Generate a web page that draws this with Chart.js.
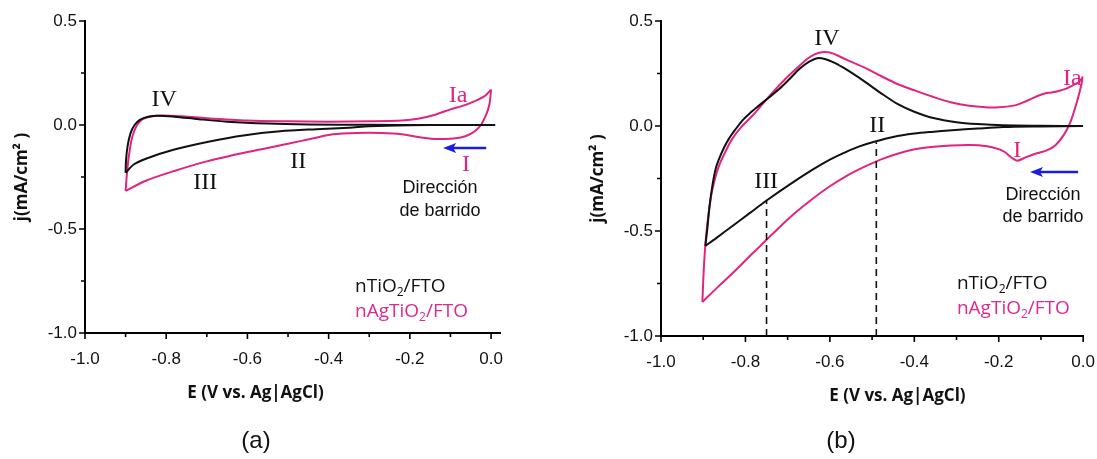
<!DOCTYPE html>
<html>
<head>
<meta charset="utf-8">
<script src="https://cdn.jsdelivr.net/npm/chart.js@4.4.0/dist/chart.umd.min.js"></script>
<style>
  body { margin: 0; background: #fff; width: 1097px; height: 459px; position: relative; overflow: hidden; }
  canvas { position: absolute; top: 0; }
  #cvA { left: 0; }
  #cvB { left: 548px; }
  .cap { position: absolute; top: 426px; font: 24px "Liberation Sans", Arial, sans-serif; color: #111; transform: translateX(-50%); }
</style>
</head>
<body>
<canvas id="cvA" width="548" height="459"></canvas>
<canvas id="cvB" width="563" height="459"></canvas>
<div class="cap" style="left:256px">(a)</div>
<div class="cap" style="left:841px">(b)</div>
<script>
// axis ticks
const xMajor = [-1.0, -0.8, -0.6, -0.4, -0.2, 0.0];
const xMinor = [-0.9, -0.7, -0.5, -0.3, -0.1];
const yMajor = [0.5, 0.0, -0.5, -1.0];
const yMinor = [0.25, -0.25, -0.75];

// (a) nTiO2/FTO : cathodic sweep (0 -> -0.9) and anodic sweep back
const aTiO2CathE = [0.01, -0.1, -0.2, -0.3, -0.35, -0.43, -0.52, -0.61, -0.69, -0.78, -0.85, -0.88, -0.9];
const aTiO2CathJ = [0, 0, -0.001, -0.006, -0.013, -0.02, -0.03, -0.05, -0.078, -0.118, -0.162, -0.19, -0.23];
const aTiO2AnodE = [-0.9, -0.899, -0.895, -0.888, -0.878, -0.865, -0.845, -0.82, -0.78, -0.72, -0.65, -0.55, -0.45, -0.3, -0.15, 0.01];
const aTiO2AnodJ = [-0.23, -0.17, -0.1, -0.04, 0.0, 0.025, 0.04, 0.045, 0.04, 0.028, 0.016, 0.007, 0.003, 0.001, 0, 0];
// (a) nAgTiO2/FTO
const aAgCathE = [0, -0.004, -0.012, -0.025, -0.04, -0.056, -0.075, -0.1, -0.14, -0.18, -0.22, -0.27, -0.33, -0.39, -0.44, -0.5, -0.6, -0.7, -0.78, -0.85, -0.9];
const aAgCathJ = [0.17, 0.1, 0.05, 0.0, -0.03, -0.048, -0.06, -0.066, -0.067, -0.058, -0.044, -0.038, -0.038, -0.045, -0.065, -0.09, -0.13, -0.175, -0.221, -0.268, -0.317];
const aAgAnodE = [-0.9, -0.897, -0.892, -0.884, -0.872, -0.858, -0.84, -0.81, -0.76, -0.7, -0.6, -0.5, -0.4, -0.3, -0.22, -0.18, -0.14, -0.1, -0.07, -0.04, -0.015, 0];
const aAgAnodJ = [-0.317, -0.24, -0.15, -0.06, 0.0, 0.028, 0.04, 0.046, 0.042, 0.033, 0.022, 0.018, 0.016, 0.018, 0.022, 0.03, 0.048, 0.075, 0.092, 0.115, 0.14, 0.17];

// (b) nTiO2/FTO
const bTiO2CathE = [0, -0.1, -0.19, -0.25, -0.31, -0.36, -0.4, -0.45, -0.495, -0.53, -0.56, -0.6, -0.64, -0.7, -0.75, -0.79, -0.83, -0.87, -0.895];
const bTiO2CathJ = [0, -0.002, -0.005, -0.012, -0.02, -0.028, -0.036, -0.052, -0.075, -0.097, -0.122, -0.16, -0.207, -0.285, -0.355, -0.415, -0.475, -0.535, -0.571];
const bTiO2AnodE = [-0.895, -0.89, -0.885, -0.878, -0.87, -0.862, -0.85, -0.839, -0.825, -0.807, -0.79, -0.768, -0.745, -0.72, -0.695, -0.673, -0.65, -0.63, -0.61, -0.59, -0.57, -0.55, -0.52, -0.48, -0.44, -0.4, -0.355, -0.3, -0.25, -0.19, -0.1, 0];
const bTiO2AnodJ = [-0.571, -0.484, -0.38, -0.28, -0.2, -0.154, -0.1, -0.06, -0.02, 0.027, 0.06, 0.097, 0.135, 0.176, 0.225, 0.27, 0.305, 0.323, 0.318, 0.302, 0.28, 0.255, 0.215, 0.158, 0.105, 0.068, 0.038, 0.018, 0.009, 0.003, 0.001, 0];
// (b) nAgTiO2/FTO
const bAgCathE = [0, -0.01, -0.02, -0.03, -0.045, -0.065, -0.085, -0.11, -0.135, -0.156, -0.17, -0.185, -0.2, -0.23, -0.27, -0.314, -0.36, -0.396, -0.44, -0.48, -0.52, -0.56, -0.6, -0.64, -0.68, -0.72, -0.754, -0.783, -0.83, -0.862, -0.902];
const bAgCathJ = [0.235, 0.15, 0.08, 0.02, -0.04, -0.09, -0.115, -0.13, -0.148, -0.165, -0.15, -0.125, -0.11, -0.095, -0.09, -0.093, -0.1, -0.11, -0.132, -0.16, -0.196, -0.237, -0.287, -0.345, -0.41, -0.483, -0.55, -0.606, -0.7, -0.76, -0.838];
const bAgAnodE = [-0.902, -0.898, -0.892, -0.882, -0.872, -0.862, -0.847, -0.831, -0.81, -0.783, -0.755, -0.728, -0.705, -0.681, -0.65, -0.626, -0.6, -0.561, -0.52, -0.479, -0.44, -0.396, -0.355, -0.314, -0.27, -0.231, -0.2, -0.165, -0.145, -0.124, -0.105, -0.091, -0.075, -0.058, -0.04, -0.025, -0.01, 0];
const bAgAnodJ = [-0.838, -0.657, -0.5, -0.343, -0.25, -0.186, -0.12, -0.06, -0.005, 0.05, 0.115, 0.176, 0.225, 0.27, 0.325, 0.349, 0.35, 0.316, 0.28, 0.238, 0.2, 0.167, 0.138, 0.113, 0.096, 0.089, 0.089, 0.097, 0.11, 0.128, 0.145, 0.155, 0.16, 0.167, 0.178, 0.194, 0.21, 0.235];
// (b) dashed markers: potential and top of the line
const bMarkE = [-0.75, -0.49];
const bMarkTop = [-0.355, -0.077];

const BLACK = '#111111';
const PINK = '#e2237f';
const PINK_TXT = '#db2a8e';
const BLUE = '#1c1ce0';

function pts(es, js) {
  return es.map((e, i) => ({ x: e, y: js[i] }));
}

function curve(es, js, color) {
  return { data: pts(es, js), borderColor: color, borderWidth: 2, showLine: true, pointRadius: 0, tension: 0.3 };
}

function markers(es, tops) {
  return es.map((e, i) => ({
    data: [{ x: e, y: -1.0 }, { x: e, y: tops[i] }],
    borderColor: BLACK, borderWidth: 1.6, borderDash: [7, 5], showLine: true, pointRadius: 0, tension: 0
  }));
}

// text with a subscript "2"
function drawSub(ctx, x, y, parts, size, color) {
  ctx.fillStyle = color;
  ctx.textAlign = 'left';
  ctx.textBaseline = 'middle';
  let cx = x;
  parts.forEach(p => {
    const sub = p.startsWith('_');
    const t = sub ? p.slice(1) : p;
    ctx.font = (sub ? Math.round(size * 0.65) : size) + 'px "Open Sans"';
    ctx.fillText(t, cx, sub ? y + size * 0.3 : y);
    cx += ctx.measureText(t).width;
  });
}

function decor(notes) {
  return {
    id: 'decor',
    afterDraw(chart) {
      const { ctx, chartArea: ca, scales: { x, y } } = chart;
      ctx.save();
      // tick marks, outward
      ctx.strokeStyle = '#000';
      ctx.lineWidth = 1.6;
      ctx.beginPath();
      xMajor.forEach(v => { const p = x.getPixelForValue(v); ctx.moveTo(p, ca.bottom); ctx.lineTo(p, ca.bottom + 6); });
      xMinor.forEach(v => { const p = x.getPixelForValue(v); ctx.moveTo(p, ca.bottom); ctx.lineTo(p, ca.bottom + 4); });
      yMajor.forEach(v => { const p = y.getPixelForValue(v); ctx.moveTo(ca.left, p); ctx.lineTo(ca.left - 6, p); });
      yMinor.forEach(v => { const p = y.getPixelForValue(v); ctx.moveTo(ca.left, p); ctx.lineTo(ca.left - 4, p); });
      ctx.stroke();

      // roman labels
      ctx.textAlign = 'center';
      ctx.textBaseline = 'middle';
      ctx.font = '24px "Liberation Serif", "Times New Roman", serif';
      notes.roman.forEach(r => {
        ctx.fillStyle = r.c;
        ctx.fillText(r.t, x.getPixelForValue(r.e), y.getPixelForValue(r.j));
      });

      // sweep direction arrow
      const ay = y.getPixelForValue(notes.arrow.j);
      const ax1 = x.getPixelForValue(notes.arrow.e1);
      const ax2 = x.getPixelForValue(notes.arrow.e2);
      ctx.strokeStyle = BLUE;
      ctx.fillStyle = BLUE;
      ctx.lineWidth = 2.5;
      ctx.beginPath();
      ctx.moveTo(ax1, ay);
      ctx.lineTo(ax2 + 8, ay);
      ctx.stroke();
      ctx.beginPath();
      ctx.moveTo(ax2, ay);
      ctx.lineTo(ax2 + 13, ay - 5);
      ctx.lineTo(ax2 + 10, ay);
      ctx.lineTo(ax2 + 13, ay + 5);
      ctx.closePath();
      ctx.fill();

      ctx.fillStyle = '#111';
      ctx.font = '18px "Liberation Sans", Arial, sans-serif';
      ctx.textAlign = 'center';
      const dx = x.getPixelForValue(notes.dir.e);
      ctx.fillText('Dirección', dx, y.getPixelForValue(notes.dir.j1));
      ctx.fillText('de barrido', dx, y.getPixelForValue(notes.dir.j2));

      // legend
      const lx = x.getPixelForValue(notes.leg.e);
      drawSub(ctx, lx, y.getPixelForValue(notes.leg.j1), ['nTiO', '_2', '/FTO'], 19, '#111');
      drawSub(ctx, lx, y.getPixelForValue(notes.leg.j2), ['nAgTiO', '_2', '/FTO'], 19, PINK_TXT);

      // x axis title
      ctx.fillStyle = '#111';
      ctx.font = 'bold 17px "Open Sans", sans-serif';
      ctx.textAlign = 'center';
      ctx.textBaseline = 'middle';
      ctx.fillText('E (V vs. Ag|AgCl)', x.getPixelForValue(notes.xTitleE), notes.xTitleY);
      ctx.restore();
    }
  };
}

function panelOptions(p) {
  const tickFont = { family: '"Liberation Sans", Arial, sans-serif', size: 17 };
  return {
    responsive: false,
    animation: false,
    events: [],
    layout: { padding: { top: 21, right: p.padRight, bottom: 0, left: 0 } },
    plugins: { legend: { display: false }, tooltip: { enabled: false } },
    scales: {
      x: {
        type: 'linear', min: -1.0, max: p.xMax,
        afterBuildTicks: s => { s.ticks = xMajor.map(v => ({ value: v })); },
        afterFit: s => { s.height = p.xAxisH; },
        border: { display: true, color: '#000', width: 2 },
        grid: { display: true, drawOnChartArea: false, drawTicks: false },
        ticks: { autoSkip: false, maxRotation: 0, padding: 16, color: '#111', font: tickFont, callback: v => Number(v).toFixed(1) }
      },
      y: {
        type: 'linear', min: -1.0, max: 0.5,
        afterBuildTicks: s => { s.ticks = yMajor.map(v => ({ value: v })); },
        afterFit: s => { s.width = p.yAxisW; },
        border: { display: true, color: '#000', width: 2 },
        grid: { display: true, drawOnChartArea: false, drawTicks: false },
        ticks: { padding: 8, color: '#111', font: tickFont, callback: v => Number(v).toFixed(1) },
        title: {
          display: true, text: 'j(mA/cm² )', color: '#111',
          font: { family: '"Open Sans", sans-serif', size: 17, weight: 'bold' },
          padding: { top: p.yTitlePad, bottom: 0 }
        }
      }
    }
  };
}

// panel (a)
new Chart(document.getElementById('cvA'), {
  type: 'scatter',
  data: {
    datasets: [
      curve(aTiO2CathE, aTiO2CathJ, BLACK),
      curve(aTiO2AnodE, aTiO2AnodJ, BLACK),
      curve(aAgCathE, aAgCathJ, PINK),
      curve(aAgAnodE, aAgAnodJ, PINK)
    ]
  },
  options: panelOptions({ xMax: 0.022, padRight: 48, xAxisH: 126, yAxisW: 85, yTitlePad: 12 }),
  plugins: [decor({
    roman: [
      { t: 'IV', e: -0.805, j: 0.12, c: BLACK },
      { t: 'II', e: -0.475, j: -0.178, c: BLACK },
      { t: 'III', e: -0.704, j: -0.279, c: BLACK },
      { t: 'Ia', e: -0.081, j: 0.139, c: PINK },
      { t: 'I', e: -0.062, j: -0.192, c: PINK }
    ],
    arrow: { e1: -0.012, e2: -0.118, j: -0.11 },
    dir: { e: -0.126, j1: -0.303, j2: -0.413 },
    leg: { e: -0.335, j1: -0.779, j2: -0.899 },
    xTitleE: -0.58, xTitleY: 393
  })]
});

// panel (b)
new Chart(document.getElementById('cvB'), {
  type: 'scatter',
  data: {
    datasets: [
      curve(bTiO2CathE, bTiO2CathJ, BLACK),
      curve(bTiO2AnodE, bTiO2AnodJ, BLACK),
      ...markers(bMarkE, bMarkTop),
      curve(bAgCathE, bAgCathJ, PINK),
      curve(bAgAnodE, bAgAnodJ, PINK)
    ]
  },
  options: panelOptions({ xMax: 0.0, padRight: 0, xAxisH: 123, yAxisW: 113, yTitlePad: 40 }),
  plugins: [decor({
    roman: [
      { t: 'IV', e: -0.607, j: 0.414, c: BLACK },
      { t: 'II', e: -0.488, j: 0.0, c: BLACK },
      { t: 'III', e: -0.751, j: -0.267, c: BLACK },
      { t: 'Ia', e: -0.026, j: 0.224, c: PINK },
      { t: 'I', e: -0.156, j: -0.119, c: PINK }
    ],
    arrow: { e1: -0.012, e2: -0.126, j: -0.219 },
    dir: { e: -0.095, j1: -0.329, j2: -0.433 },
    leg: { e: -0.299, j1: -0.752, j2: -0.871 },
    xTitleE: -0.44, xTitleY: 396
  })]
});
</script>
</body>
</html>
